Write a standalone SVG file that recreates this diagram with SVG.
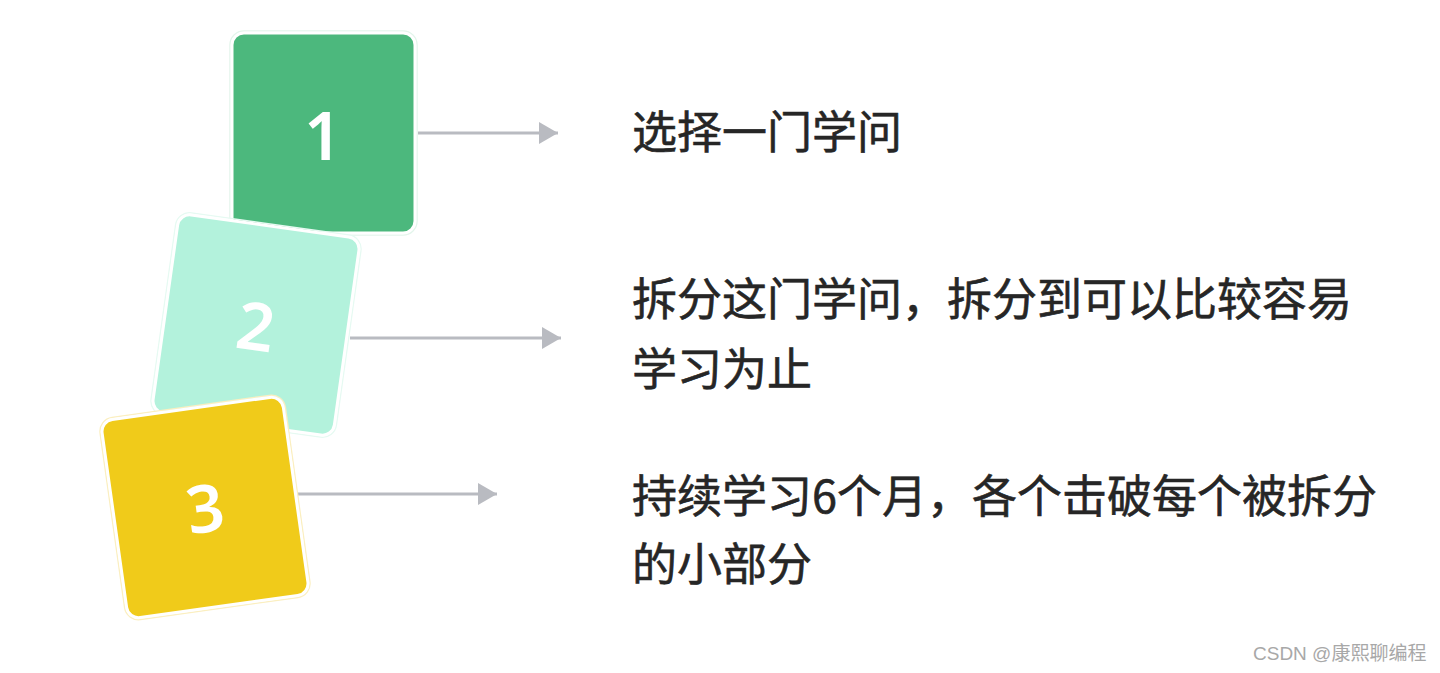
<svg xmlns="http://www.w3.org/2000/svg" width="1440" height="673" viewBox="0 0 1440 673">
<defs>
<style>
.card{stroke:#ffffff;stroke-width:3}
.edge{fill:none;stroke-width:1.5}
.num{font-family:"Noto Sans","Open Sans",sans-serif;font-size:66px;font-weight:600;fill:#ffffff;text-anchor:middle}
.lbl{font-family:"Noto Sans CJK SC","Noto Sans",sans-serif;font-size:45px;font-weight:400;fill:#262626;stroke:#262626;stroke-width:0.6}
.conn{stroke:#b9bbc1;stroke-width:3;fill:none}
.wm{font-family:"Liberation Sans","Noto Sans CJK SC",sans-serif;font-size:19px;fill:#a8a8a8}
</style>
<marker id="ah" markerWidth="22" markerHeight="24" refX="19" refY="12" markerUnits="userSpaceOnUse" orient="auto">
<path d="M0,1 L19,12 L0,23 Z" fill="#b9bbc1"/>
</marker>
</defs>
<rect width="1440" height="673" fill="#ffffff"/>
<g id="connectors">
<line class="conn" x1="418" y1="133" x2="558" y2="133" marker-end="url(#ah)"/>
<line class="conn" x1="350" y1="338" x2="561" y2="338" marker-end="url(#ah)"/>
<line class="conn" x1="298" y1="494" x2="497" y2="494" marker-end="url(#ah)"/>
</g>
<g id="node1">
<rect x="230" y="31" width="187" height="204" rx="14" class="edge" stroke="#e3f5eb"/>
<rect x="232" y="33" width="183" height="200" rx="12" class="card" fill="#4cb87d"/>
<text x="323" y="160" class="num">1</text>
</g>
<g id="node2" transform="rotate(8 256 325)">
<rect x="162.5" y="223" width="187" height="204" rx="14" class="edge" stroke="#e6faf2"/>
<rect x="164.5" y="225" width="183" height="200" rx="12" class="card" fill="#b3f2dc"/>
<text x="256" y="350" class="num">2</text>
</g>
<g id="node3" transform="rotate(-8 205 507.5)">
<rect x="111.5" y="405.5" width="187" height="204" rx="14" class="edge" stroke="#fbefc0"/>
<rect x="113.5" y="407.5" width="183" height="200" rx="12" class="card" fill="#f0cb1a"/>
<text x="205" y="532" class="num">3</text>
</g>
<g id="label1">
<text x="632" y="149" class="lbl">选择一门学问</text>
</g>
<g id="label2">
<text x="632" y="316" class="lbl">拆分这门学问，拆分到可以比较容易</text>
<text x="632" y="386" class="lbl">学习为止</text>
</g>
<g id="label3">
<text x="632" y="513" class="lbl">持续学习6个月，各个击破每个被拆分</text>
<text x="632" y="581" class="lbl">的小部分</text>
</g>
<text x="1253" y="660" class="wm">CSDN @康熙聊编程</text>
</svg>
